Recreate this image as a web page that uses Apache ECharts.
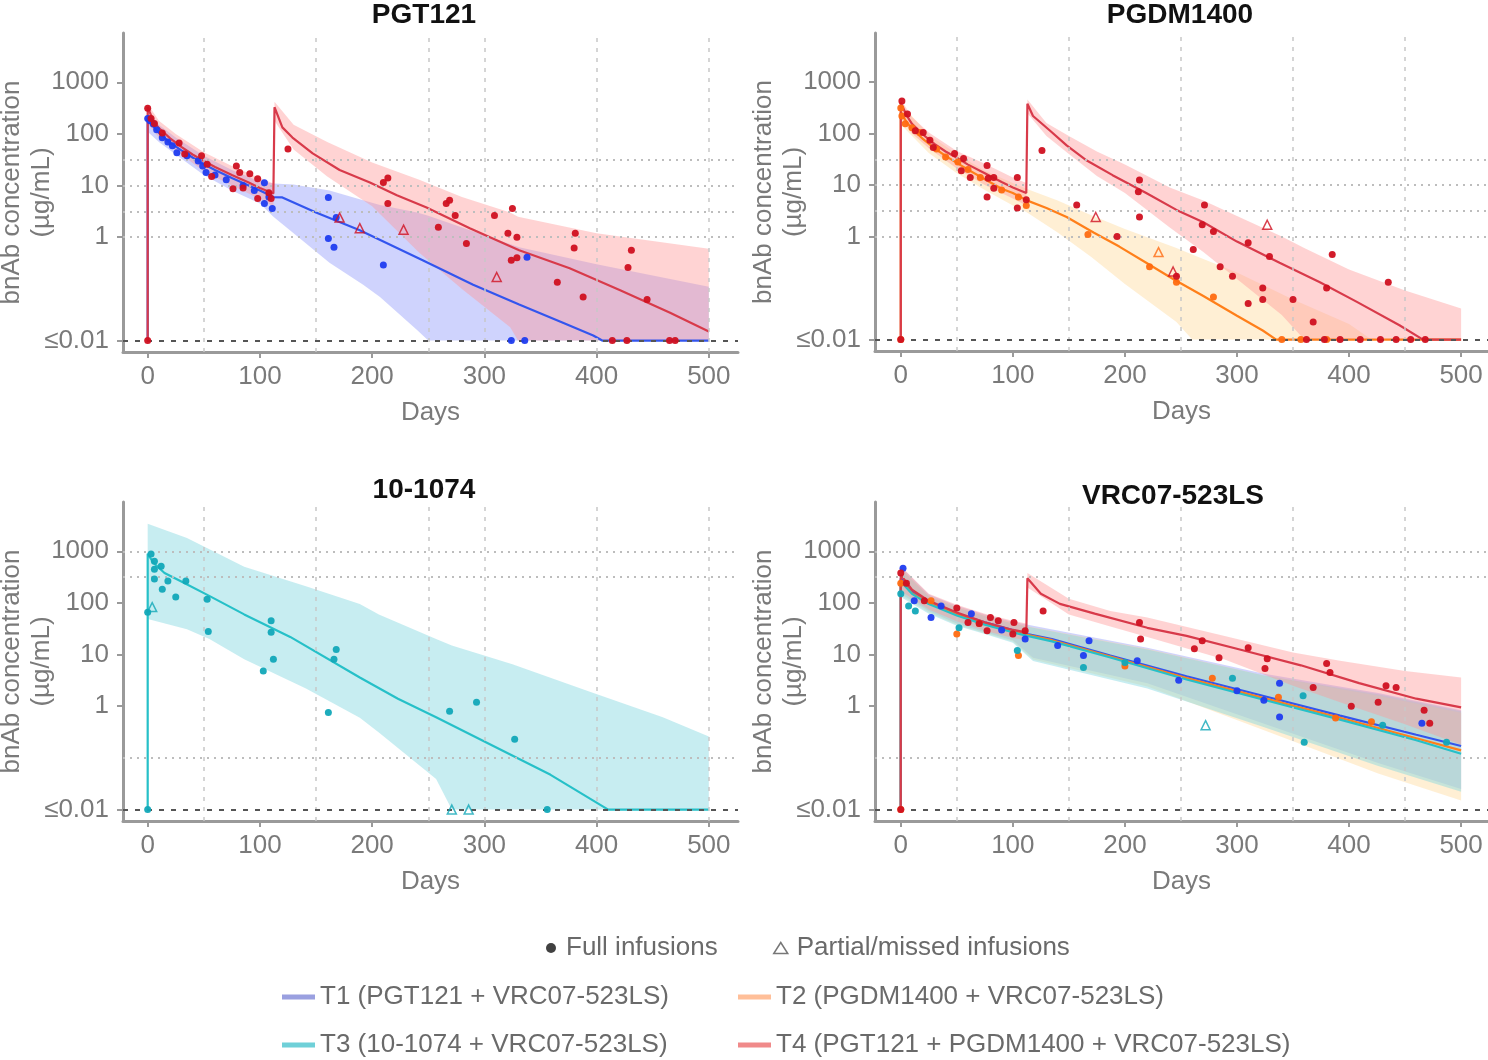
<!DOCTYPE html>
<html><head><meta charset="utf-8">
<script src="https://cdn.jsdelivr.net/npm/echarts@6/dist/echarts.min.js"></script>
<style>html,body{margin:0;padding:0;background:#fff}#chart{width:1488px;height:1060px}</style>
</head><body><div id="chart"></div>
<script>
// ---------- text / ticks ----------
const panelTitles = ['PGT121', 'PGDM1400', '10-1074', 'VRC07-523LS'];
const groupNames = ['T1 (PGT121 + VRC07-523LS)', 'T2 (PGDM1400 + VRC07-523LS)', 'T3 (10-1074 + VRC07-523LS)', 'T4 (PGT121 + PGDM1400 + VRC07-523LS)'];
const infusionNames = ['Full infusions', 'Partial/missed infusions'];
const xTickValues = [0, 100, 200, 300, 400, 500];
const yTickValues = [0.01, 1, 10, 100, 1000];
const lloq = 0.01;

// reference grid lines per panel
const p1HGrid = [31.6, 10, 3.16, 1];
const p1VGrid = [50, 150, 250, 300, 400, 500];
const p2HGrid = [31.6, 10, 3.16, 1];
const p2VGrid = [50, 150, 250, 350, 450];
const p3HGrid = [1000, 316, 0.1];
const p3VGrid = [50, 150, 250, 300, 400, 500];
const p4HGrid = [1000, 316, 0.1];
const p4VGrid = [50, 150, 250, 350, 450];

// ---------- model lines [day, ug/mL] ----------
const p1T1Line = [[0,0.01],[0,190],[5,140],[10,105],[20,68],[30,48],[40,35],[50,26],[60,20],[75,14],[90,10],[100,8],[112,6],[120,5.9],[150,3.0],[189,1.36],[245,0.36],[290,0.12],[331,0.05],[370,0.022],[397,0.0125],[405,0.01],[500,0.01]];
const p1T4Line = [[0,0.01],[0,330],[5,180],[10,130],[20,82],[30,56],[40,40],[50,30],[60,23],[75,16],[90,11.5],[100,9],[112,7],[113,330],[120,134],[129,85],[147,42],[171,20],[198,11.5],[222,6.5],[248,3.8],[287,1.5],[331,0.56],[376,0.25],[421,0.094],[465,0.035],[500,0.015]];
const p2T2Line = [[0,0.01],[0,260],[5,170],[10,125],[20,78],[30,52],[40,37],[50,27],[60,20],[75,13],[90,8.5],[100,7],[113,5],[130,3.6],[148,2.4],[172,1.2],[195,0.64],[219,0.31],[243,0.15],[270,0.07],[300,0.029],[323,0.015],[335,0.01],[500,0.01]];
const p2T4Line = [[0,0.01],[0,400],[5,230],[10,155],[20,95],[30,63],[40,45],[50,34],[60,25],[75,17],[90,11.5],[100,9],[112,7],[113,380],[118,220],[133,115],[148,59],[166,30],[189,15.6],[219,7],[246,3.3],[270,1.9],[300,0.8],[338,0.31],[374,0.13],[407,0.054],[445,0.019],[466,0.01],[500,0.01]];
const p3T3Line = [[0,0.01],[0,900],[5,600],[15,380],[30,260],[54,140],[86,60],[127,22],[189,3.6],[223,1.4],[257,0.61],[308,0.17],[359,0.047],[407,0.011],[410,0.01],[500,0.01]];
const p4T1Line = [[0,0.01],[0,300],[10,165],[25,105],[50,62],[75,42],[100,30],[113,25],[135,20],[187,9.6],[255,3.8],[323,1.6],[392,0.66],[460,0.28],[500,0.17]];
const p4T2Line = [[0,0.01],[0,280],[10,155],[25,100],[50,60],[75,40],[100,28],[113,24],[135,19],[187,9.2],[255,3.5],[323,1.45],[392,0.6],[460,0.24],[500,0.14]];
const p4T3Line = [[0,0.01],[0,260],[10,150],[25,95],[50,57],[75,38],[100,27],[113,23],[135,18],[187,8.8],[255,3.3],[323,1.35],[392,0.55],[460,0.22],[500,0.12]];
const p4T4Line = [[0,0.01],[0,350],[10,180],[25,110],[50,65],[75,42],[100,30],[112,27],[113,300],[125,150],[142,96],[173,62],[220,33],[255,23],[306,12],[357,6.2],[409,2.8],[460,1.4],[500,0.95]];

// ---------- prediction bands [day, lower, upper] ----------
const p1T1Band = [[0,110,280],[10,70,150],[25,40,85],[50,16,38],[75,8,20],[100,4.5,12],[112,2.5,11],[130,1.2,10.5],[162,0.32,8],[192,0.12,5.2],[207,0.07,4.2],[240,0.016,3],[250,0.01,2.6],[331,0.01,0.64],[400,0.01,0.3],[500,0.01,0.11]];
const p1T4Band = [[0,160,380],[10,85,180],[25,48,100],[50,19,44],[75,10,24],[100,5.5,14],[112,4,11],[113,180,420],[130,50,150],[160,15,70],[200,4,28],[242,0.5,13],[280,0.1,6],[323,0.018,3],[330,0.01,2.5],[400,0.01,1.2],[500,0.01,0.6]];
const p2T2Band = [[0,150,380],[25,42,95],[50,17,40],[75,8,19],[100,4,11],[112,3,8.5],[140,1.2,5],[170,0.4,2.6],[200,0.12,1.4],[246,0.022,0.6],[260,0.01,0.45],[300,0.01,0.2],[350,0.01,0.06],[400,0.01,0.02],[420,0.01,0.01]];
const p2T4Band = [[0,200,460],[10,100,210],[25,52,105],[50,21,46],[75,10,26],[100,5.5,14],[112,4,11],[113,250,460],[130,90,160],[150,40,90],[175,15,45],[200,7,25],[240,1.5,9],[270,0.5,5],[300,0.15,2.5],[340,0.03,1.0],[360,0.01,0.6],[400,0.01,0.23],[450,0.01,0.09],[500,0.01,0.04]];
const p3T3Band = [[0,49,3400],[35,31,1800],[55,20,1100],[86,8.1,500],[141,2.2,210],[189,0.6,95],[206,0.31,60],[257,0.039,20],[271,0.01,15],[325,0.01,6.5],[394,0.01,1.9],[459,0.01,0.61],[500,0.01,0.26]];
const p4T1Band = [[0,150,500],[25,70,145],[50,40,88],[75,27,60],[100,19,43],[118,8.7,36],[220,2.8,13.6],[323,0.47,4.3],[426,0.08,1.8],[500,0.025,0.84]];
const p4T2Band = [[0,140,480],[25,65,140],[50,38,85],[75,26,58],[100,18,42],[118,8,34],[220,2.4,13],[323,0.35,4],[426,0.05,1.6],[500,0.015,0.75]];
const p4T3Band = [[0,130,460],[25,62,135],[50,36,82],[75,25,56],[100,17,40],[118,7.5,33],[220,2.2,12.5],[323,0.4,4],[426,0.07,1.7],[500,0.022,0.8]];
const p4T4Band = [[0,170,520],[25,75,150],[50,44,92],[75,29,62],[100,21,45],[112,19,40],[113,200,380],[150,60,120],[187,35,70],[220,22,52],[289,8,23],[350,2.5,11],[392,1.2,7.6],[450,0.45,4.8],[500,0.18,3.6]];

// ---------- observations [day, ug/mL] ----------
const p1T1Full = [[0,200],[2,180],[5,155],[8,120],[13,84],[18,70],[22,59],[26,43],[35,38],[45,30],[49,24],[52,18],[60,16],[70,13],[85,10],[95,8],[104,11.4],[108,6],[104,4.5],[111,3.6],[161,5.9],[168,2.4],[161,0.95],[166,0.64],[210,0.29],[338,0.41],[324,0.01],[336,0.01]];
const p1T4Full = [[0,316],[3,200],[6,160],[13,104],[28,67],[33,41],[48,38],[53,26],[57,15],[79,24],[82,18],[76,8.7],[85,9],[91,17],[98,13.6],[98,5.6],[108,7.3],[110,5.6],[0,0.01],[125,51],[214,14],[210,11.5],[214,4.5],[259,1.56],[266,4.5],[269,5.2],[274,2.65],[284,0.76],[309,2.65],[321,1.2],[324,0.36],[325,3.6],[329,1.0],[329,0.4],[365,0.135],[380,0.62],[381,1.2],[388,0.07],[428,0.26],[431,0.56],[445,0.062],[414,0.01],[427,0.01],[465,0.01],[470,0.01]];
const p1T4Partial = [[171,2.4],[189,1.5],[228,1.4],[311,0.17]];
const p2T2Full = [[0,316],[1,220],[4,155],[10,130],[17,105],[32,50],[40,35],[51,28],[60,20],[71,14],[90,8],[105,5.9],[112,4],[167,1.1],[222,0.26],[246,0.13],[279,0.067],[0,0.01],[340,0.01],[357,0.01],[380,0.01]];
const p2T2Partial = [[230,0.5]];
const p2T4Full = [[1,430],[6,240],[13,114],[20,105],[26,74],[29,54],[48,41],[54,19],[56,33],[62,14],[77,24],[78,13.6],[77,5.9],[83,14],[83,8.7],[104,14],[104,3.6],[112,5.2],[126,47],[157,4.1],[193,1.0],[212,7.4],[213,12.6],[213,2.4],[246,0.17],[261,0.56],[269,1.7],[271,4.1],[279,1.25],[285,0.26],[296,0.17],[310,0.76],[310,0.05],[323,0.1],[323,0.06],[329,0.41],[350,0.06],[368,0.022],[380,0.1],[385,0.45],[435,0.13],[0,0.01],[362,0.01],[378,0.01],[392,0.01],[410,0.01],[428,0.01],[442,0.01],[455,0.01],[468,0.01]];
const p2T4Partial = [[174,2.4],[243,0.21],[327,1.7]];
const p3T3Full = [[3,890],[6,640],[6,450],[12,515],[6,290],[18,265],[34,265],[13,185],[25,130],[53,118],[0,66],[54,28],[110,45],[110,27],[112,8.1],[103,4.8],[168,12.6],[166,8.1],[161,0.76],[269,0.8],[293,1.2],[327,0.23],[0,0.01],[356,0.01]];
const p3T3Partial = [[4,83],[271,0.01],[286,0.01]];
const p4T1Full = [[2,470],[12,110],[36,87],[27,52],[63,62],[90,30],[111,20],[140,15],[168,18.6],[163,9.6],[211,7.6],[248,3.2],[300,2],[324,1.3],[338,2.8],[338,0.62],[465,0.47]];
const p4T2Full = [[0,240],[27,110],[50,25],[70,40],[105,9.6],[200,6],[278,3.5],[337,1.5],[388,0.59],[420,0.5],[0,0.01]];
const p4T3Full = [[0,150],[7,87],[13,70],[52,33],[104,12],[163,5.6],[200,7],[296,3.5],[359,1.6],[360,0.2],[430,0.43],[487,0.2]];
const p4T3Partial = [[272,0.43]];
const p4T4Full = [[0,380],[5,240],[21,110],[50,80],[60,42],[70,40],[77,29],[80,52],[87,45],[100,25],[101,42],[111,29],[127,70],[213,42],[214,20],[262,13],[269,18.6],[284,8.7],[310,13.6],[325,5.4],[327,8.3],[368,2.3],[380,6.7],[383,4.5],[402,1.0],[426,1.2],[433,2.5],[442,2.3],[467,0.84],[472,0.47],[0,0.01]];

// ---------- styling ----------
const FONT = 'Liberation Sans';
const lineColors = ['#3355ee', '#ff7f1a', '#26c0c8', '#d83a4a'];
const pointColors = ['#1f3cf0', '#ff6a10', '#12a8b8', '#d01020'];
const bandColors = ['rgba(140,150,250,0.42)', 'rgba(255,220,160,0.45)', 'rgba(130,215,225,0.45)', 'rgba(255,150,150,0.42)'];
const legendSwatch = ['#9aa0e0', '#ffbf99', '#6fd0d8', '#f08a8a'];

const grids = [
  {left: 123, top: 33, width: 615, height: 319},
  {left: 875, top: 33, width: 613, height: 318},
  {left: 123, top: 502, width: 615, height: 319},
  {left: 875, top: 502, width: 613, height: 319}
].map(g => Object.assign({containLabel: false, outerBoundsMode: 'none'}, g));
const xRanges = [[-22, 526], [-23, 524], [-22, 526], [-23, 524]];
const titlePos = [[424, 1], [1180, 1], [424, 476], [1173, 482]];

function xAxisCfg(g) {
  return {
    type: 'value', gridIndex: g, min: xRanges[g][0], max: xRanges[g][1],
    axisLine: {show: true, onZero: false, lineStyle: {color: '#9a9a9a', width: 3}},
    axisTick: {show: true, customValues: xTickValues, length: 6, lineStyle: {color: '#9a9a9a', width: 2}},
    axisLabel: {customValues: xTickValues, fontSize: 26, color: '#7a7a7a', margin: 12, fontFamily: FONT},
    splitLine: {show: false},
    name: 'Days', nameLocation: 'middle', nameGap: 48, nameMoveOverlap: false,
    nameTextStyle: {fontSize: 26, color: '#7a7a7a', fontFamily: FONT}
  };
}
function yAxisCfg(g) {
  return {
    type: 'log', logBase: 10, gridIndex: g, min: 0.006, max: 9000,
    axisLine: {show: true, onZero: false, lineStyle: {color: '#9a9a9a', width: 3}},
    axisTick: {show: true, customValues: yTickValues, length: 6, lineStyle: {color: '#9a9a9a', width: 2}},
    axisLabel: {customValues: yTickValues, fontSize: 26, color: '#7a7a7a', margin: 14, fontFamily: FONT,
      formatter: v => (v < 0.05 ? '\u22640.01' : String(Math.round(v)))},
    splitLine: {show: false},
    name: 'bnAb concentration\n(\u00b5g/mL)', nameLocation: 'middle', nameGap: 66, nameMoveOverlap: false,
    nameTextStyle: {fontSize: 26, color: '#7a7a7a', lineHeight: 30, fontFamily: FONT}
  };
}
function bandSeries(band, g, gi) {
  return {
    type: 'custom', name: groupNames[gi], xAxisIndex: g, yAxisIndex: g, z: 1, silent: true, clip: true,
    data: band, encode: {x: 0, y: [1, 2]},
    renderItem: function (params, api) {
      if (params.dataIndex !== 0) return null;
      const upper = band.map(d => api.coord([d[0], d[2]]));
      const lower = band.map(d => api.coord([d[0], d[1]])).reverse();
      return {type: 'polygon', shape: {points: upper.concat(lower)}, style: {fill: bandColors[gi]}};
    }
  };
}
function lineSeries(data, g, gi) {
  return {type: 'line', name: groupNames[gi], xAxisIndex: g, yAxisIndex: g, data: data, showSymbol: false, symbol: 'none',
    z: 3, silent: true, lineStyle: {color: lineColors[gi], width: 2.2}, itemStyle: {color: lineColors[gi]}};
}
function fullSeries(data, g, gi) {
  return {type: 'scatter', name: groupNames[gi], xAxisIndex: g, yAxisIndex: g, data: data, symbol: 'circle', symbolSize: 7,
    z: 5, itemStyle: {color: pointColors[gi], opacity: 0.95}};
}
function partialSeries(data, g, gi) {
  return {type: 'scatter', name: groupNames[gi], xAxisIndex: g, yAxisIndex: g, data: data, symbol: 'triangle', symbolSize: 9,
    z: 5, itemStyle: {color: 'rgba(255,255,255,0)', borderColor: pointColors[gi], borderWidth: 1.5}};
}
function gridSeries(g, hVals, vVals) {
  const data = hVals.map(v => ({yAxis: v, lineStyle: {type: [2, 5], color: '#bdbdbd', width: 2}}))
    .concat(vVals.map(v => ({xAxis: v, lineStyle: {type: [4, 6], color: '#c8c8c8', width: 1.5}})));
  return {type: 'line', xAxisIndex: g, yAxisIndex: g, data: [], silent: true, z: 0,
    markLine: {silent: true, symbol: ['none', 'none'], label: {show: false}, animation: false, data: data}};
}
function floorSeries(g) {
  return {type: 'line', xAxisIndex: g, yAxisIndex: g, data: [], silent: true, z: 2,
    markLine: {silent: true, symbol: ['none', 'none'], label: {show: false}, animation: false,
      data: [{yAxis: lloq, lineStyle: {type: [5, 7], color: '#555', width: 2.2}}]}};
}

const series = [
  gridSeries(0, p1HGrid, p1VGrid), gridSeries(1, p2HGrid, p2VGrid),
  gridSeries(2, p3HGrid, p3VGrid), gridSeries(3, p4HGrid, p4VGrid),
  floorSeries(0), floorSeries(1), floorSeries(2), floorSeries(3),
  // panel 1
  bandSeries(p1T1Band, 0, 0), bandSeries(p1T4Band, 0, 3),
  lineSeries(p1T1Line, 0, 0), lineSeries(p1T4Line, 0, 3),
  fullSeries(p1T1Full, 0, 0), fullSeries(p1T4Full, 0, 3), partialSeries(p1T4Partial, 0, 3),
  // panel 2
  bandSeries(p2T2Band, 1, 1), bandSeries(p2T4Band, 1, 3),
  lineSeries(p2T2Line, 1, 1), lineSeries(p2T4Line, 1, 3),
  fullSeries(p2T2Full, 1, 1), fullSeries(p2T4Full, 1, 3), partialSeries(p2T2Partial, 1, 1), partialSeries(p2T4Partial, 1, 3),
  // panel 3
  bandSeries(p3T3Band, 2, 2), lineSeries(p3T3Line, 2, 2),
  fullSeries(p3T3Full, 2, 2), partialSeries(p3T3Partial, 2, 2),
  // panel 4
  bandSeries(p4T1Band, 3, 0), bandSeries(p4T2Band, 3, 1), bandSeries(p4T3Band, 3, 2), bandSeries(p4T4Band, 3, 3),
  lineSeries(p4T1Line, 3, 0), lineSeries(p4T2Line, 3, 1), lineSeries(p4T3Line, 3, 2), lineSeries(p4T4Line, 3, 3),
  fullSeries(p4T1Full, 3, 0), fullSeries(p4T2Full, 3, 1), fullSeries(p4T3Full, 3, 2), fullSeries(p4T4Full, 3, 3),
  partialSeries(p4T3Partial, 3, 2),
  // legend-only marker series
  {type: 'scatter', name: infusionNames[0], xAxisIndex: 0, yAxisIndex: 0, data: [], symbol: 'circle', itemStyle: {color: '#111'}},
  {type: 'scatter', name: infusionNames[1], xAxisIndex: 0, yAxisIndex: 0, data: [], symbol: 'triangle', itemStyle: {color: '#fff', borderColor: '#555', borderWidth: 1.5}}
];

const legendText = {fontSize: 26, color: '#6a6a6a', fontFamily: FONT, lineHeight: 30};
const legends = [
  {data: [{name: infusionNames[0], icon: 'circle', itemStyle: {color: '#111', borderWidth: 0}}], left: 546, top: 933, itemWidth: 14, itemHeight: 10,
    textStyle: Object.assign({padding: [0, 0, 0, 3]}, legendText)},
  {data: [{name: infusionNames[1], icon: 'triangle', itemStyle: {color: '#fff', borderColor: '#555', borderWidth: 1.5}}], left: 773, top: 933, itemWidth: 14, itemHeight: 11,
    textStyle: Object.assign({padding: [0, 0, 0, 4]}, legendText)},
  {data: [{name: groupNames[0], icon: 'rect', itemStyle: {color: legendSwatch[0], borderWidth: 0}}], left: 282, top: 982},
  {data: [{name: groupNames[1], icon: 'rect', itemStyle: {color: legendSwatch[1], borderWidth: 0}}], left: 738, top: 982},
  {data: [{name: groupNames[2], icon: 'rect', itemStyle: {color: legendSwatch[2], borderWidth: 0}}], left: 282, top: 1030},
  {data: [{name: groupNames[3], icon: 'rect', itemStyle: {color: legendSwatch[3], borderWidth: 0}}], left: 738, top: 1030}
].map((l, i) => Object.assign({padding: 0, selectedMode: false, itemWidth: 33, itemHeight: 5, textStyle: legendText}, l));

const option = {
  animation: false,
  backgroundColor: '#fff',
  textStyle: {fontFamily: FONT},
  title: panelTitles.map((t, i) => ({
    text: t, left: titlePos[i][0], top: titlePos[i][1], textAlign: 'center', padding: 0,
    textStyle: {fontSize: 28, fontWeight: 'bold', color: '#111', fontFamily: FONT}
  })),
  legend: legends,
  grid: grids,
  xAxis: [0, 1, 2, 3].map(xAxisCfg),
  yAxis: [0, 1, 2, 3].map(yAxisCfg),
  series: series
};

const chart = echarts.init(document.getElementById('chart'), null, {renderer: 'canvas'});
chart.setOption(option);
</script></body></html>
